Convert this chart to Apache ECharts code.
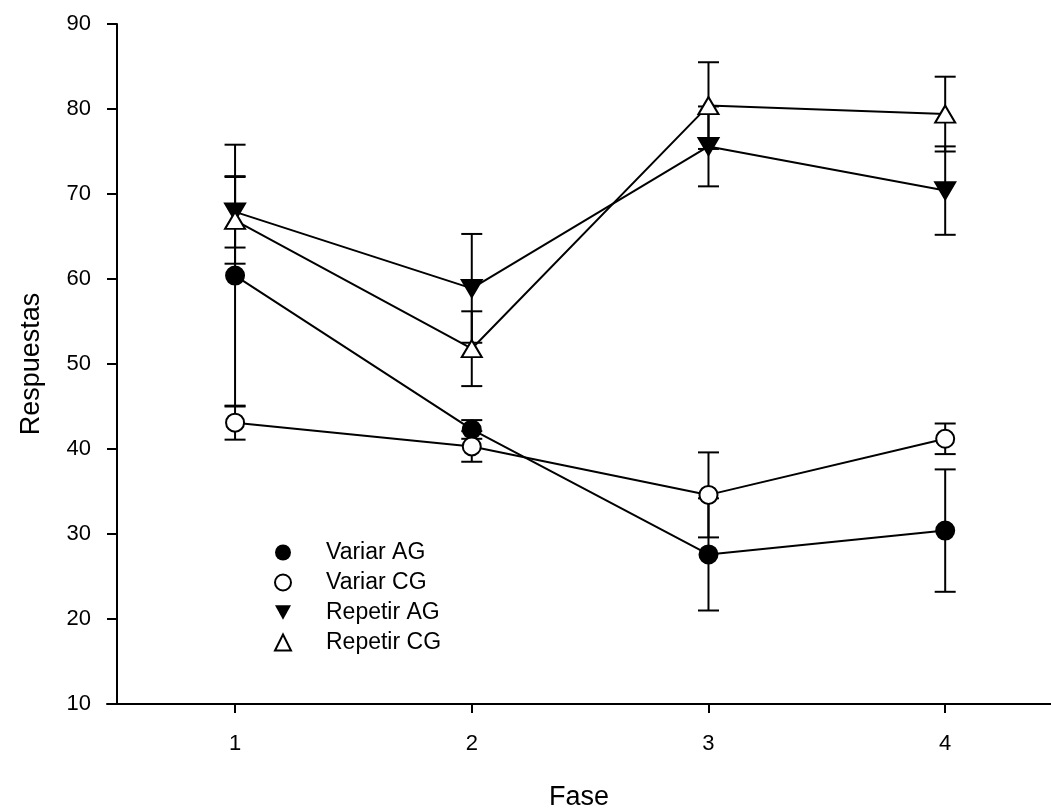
<!DOCTYPE html>
<html>
<head>
<meta charset="utf-8">
<script src="https://cdn.jsdelivr.net/npm/echarts@6/dist/echarts.min.js"></script>
<style>
  html, body { margin: 0; padding: 0; background: #fff; }
  #chart { width: 1051px; height: 811px; }
</style>
</head>
<body>
<div id="chart"></div>
<script>
const fases = [1, 2, 3, 4];

const variarAG = [60.4, 42.3, 27.6, 30.4];
const variarAGErr = [15.4, 1.1, 6.6, 7.2];
const variarCG = [43.1, 40.3, 34.6, 41.2];
const variarCGErr = [2.0, 1.8, 5.0, 1.8];
const repetirAG = [67.9, 58.9, 75.6, 70.4];
const repetirAGErr = [4.2, 6.4, 4.7, 5.2];
const repetirCG = [66.9, 51.8, 80.4, 79.4];
const repetirCGErr = [5.1, 4.4, 5.1, 4.4];

const yTicks = [10, 20, 30, 40, 50, 60, 70, 80, 90];

const FONT = "'Liberation Sans', Arial, sans-serif";
const TRI_DOWN = "path://M0,0 L20,0 L10,18 Z";

function errorData(values, errors) {
  return fases.map((f, i) => [f, values[i] - errors[i], values[i] + errors[i]]);
}

function errorSeries(name, values, errors) {
  return {
    name: name + " err",
    type: "custom",
    z: 1,
    silent: true,
    data: errorData(values, errors),
    encode: { x: 0, y: [1, 2] },
    renderItem(params, api) {
      const top = api.coord([api.value(0), api.value(2)]);
      const bottom = api.coord([api.value(0), api.value(1)]);
      const half = 10.5;
      const style = { stroke: "#000", lineWidth: 2 };
      return {
        type: "group",
        children: [
          { type: "line", shape: { x1: top[0], y1: top[1], x2: bottom[0], y2: bottom[1] }, style },
          { type: "line", shape: { x1: top[0] - half, y1: top[1], x2: top[0] + half, y2: top[1] }, style },
          { type: "line", shape: { x1: bottom[0] - half, y1: bottom[1], x2: bottom[0] + half, y2: bottom[1] }, style }
        ]
      };
    }
  };
}

function lineSeries(name, values, symbol, size, fill) {
  return {
    name,
    type: "line",
    z: 3,
    data: fases.map((f, i) => [f, values[i]]),
    symbol,
    symbolSize: size,
    showAllSymbol: true,
    lineStyle: { color: "#000", width: 2 },
    itemStyle: { color: fill, borderColor: "#000", borderWidth: 2, opacity: 1 },
    emphasis: { disabled: true }
  };
}

const chart = echarts.init(document.getElementById("chart"));

chart.setOption({
  animation: false,
  backgroundColor: "#fff",
  textStyle: { fontFamily: FONT },
  grid: { left: 107, right: 0, top: 24, bottom: 107, outerBoundsMode: "none", containLabel: false },
  xAxis: {
    type: "value",
    min: 0.459,
    max: 4.447,
    name: "Fase",
    nameLocation: "middle",
    nameGap: 80,
    nameTextStyle: { fontSize: 27, color: "#000", fontFamily: FONT },
    axisLine: { lineStyle: { color: "#000", width: 2 } },
    axisTick: { customValues: fases, length: 9, lineStyle: { color: "#000", width: 2 } },
    axisLabel: { customValues: fases, margin: 29, fontSize: 22, color: "#000", fontFamily: FONT },
    splitLine: { show: false }
  },
  yAxis: {
    type: "value",
    min: 10,
    max: 90,
    interval: 10,
    offset: -10,
    name: "Respuestas",
    nameLocation: "middle",
    nameGap: 72,
    nameTextStyle: { fontSize: 27, color: "#000", fontFamily: FONT },
    axisLine: { onZero: false, lineStyle: { color: "#000", width: 2 } },
    axisTick: { length: 10, lineStyle: { color: "#000", width: 2 } },
    axisLabel: {
      margin: 26,
      fontSize: 22,
      color: "#000",
      fontFamily: FONT,
      formatter: (v) => (yTicks.includes(v) ? String(v) : "")
    },
    splitLine: { show: false }
  },
  legend: {
    orient: "vertical",
    left: 269,
    top: 536,
    itemWidth: 16,
    itemHeight: 16,
    itemGap: 7,
    selectedMode: false,
    textStyle: { fontSize: 23, color: "#000", fontFamily: FONT, padding: [0, 0, 0, 30] },
    data: [
      { name: "Variar AG", icon: "circle", itemStyle: { color: "#000", borderWidth: 0 } },
      { name: "Variar CG", icon: "circle", itemStyle: { color: "#fff", borderColor: "#000", borderWidth: 2 } },
      { name: "Repetir AG", icon: TRI_DOWN, itemStyle: { color: "#000", borderWidth: 0 } },
      { name: "Repetir CG", icon: "triangle", itemStyle: { color: "#fff", borderColor: "#000", borderWidth: 2 } }
    ]
  },
  series: [
    errorSeries("Variar AG", variarAG, variarAGErr),
    errorSeries("Variar CG", variarCG, variarCGErr),
    errorSeries("Repetir AG", repetirAG, repetirAGErr),
    errorSeries("Repetir CG", repetirCG, repetirCGErr),
    lineSeries("Variar AG", variarAG, "circle", 18, "#000"),
    lineSeries("Variar CG", variarCG, "circle", 18, "#fff"),
    lineSeries("Repetir AG", repetirAG, TRI_DOWN, [20, 17], "#000"),
    lineSeries("Repetir CG", repetirCG, "triangle", [20, 17], "#fff")
  ]
});
</script>
</body>
</html>
